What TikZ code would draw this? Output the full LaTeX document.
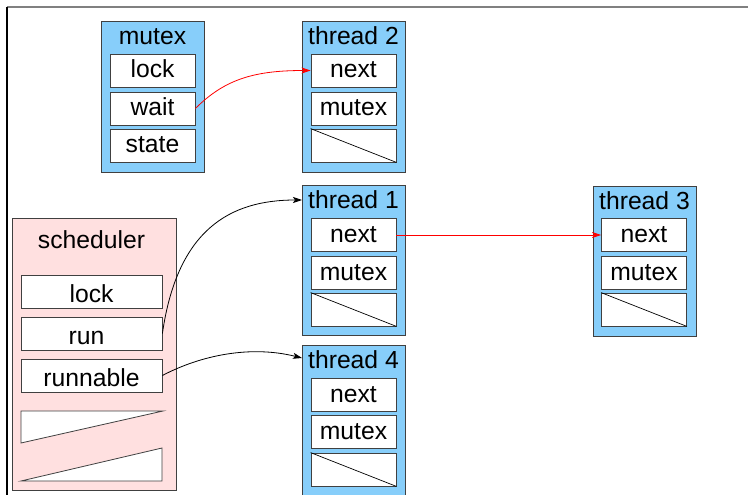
\documentclass[tikz,border=0pt]{standalone}
\usepackage{fontspec}
\setmainfont{Liberation Sans}
\usetikzlibrary{arrows.meta}
\definecolor{structblue}{RGB}{135,206,250}
\definecolor{schedpink}{RGB}{255,224,224}
\definecolor{edgegray}{RGB}{64,64,64}
\definecolor{framegray}{RGB}{128,128,128}

\begin{document}
\begin{tikzpicture}[x=1pt,y=-1pt,
  font=\fontsize{24.7}{30}\selectfont,
  structbox/.style={draw=edgegray, fill=structblue, line width=1pt, inner sep=0pt,
                    minimum width=103pt, minimum height=150pt},
  schedbox/.style={draw=edgegray, fill=schedpink, line width=1pt, inner sep=0pt,
                   minimum width=164pt, minimum height=272pt},
  field/.style={draw=edgegray, fill=white, line width=0.8pt, inner sep=0pt,
                minimum width=85pt, minimum height=33pt, text height=18pt, text depth=3pt},
  widefield/.style={field, minimum width=141pt, text height=21pt, text depth=0pt},
  title/.style={anchor=base, inner sep=0pt},
  ptr/.style={line width=0.8pt, -{Stealth[length=9pt,width=6pt,inset=2pt]}},
  nullslash/.style={line width=0.7pt, black}
]
\useasboundingbox (0,0) rectangle (748,495);

% frame
\draw[framegray, line width=2pt] (7,7) -- (748,7);
\draw[black, line width=1.2pt] (7,7) -- (7,495);

% mutex structure
\node[structbox] (mtx) at (152.5,97) {};
\node[title] (mtxtitle) at (152.5,45) {mutex};
\node[field] (mlock)  at (152.5,70.5)  {lock};
\node[field] (mwait)  at (152.5,108.5) {wait};
\node[field] (mstate) at (152.5,145.5) {state};

% thread 2
\node[structbox] (t2) at (353.5,97) {};
\node[title] (t2title) at (353.5,45) {thread 2};
\node[field] (t2next)  at (353.5,70.5)  {next};
\node[field] (t2mutex) at (353.5,108.5) {mutex};
\node[field] (t2nil)   at (353.5,145.5) {};
\draw[nullslash] (t2nil.north west) -- (t2nil.south east);

% thread 1
\node[structbox] (t1) at (353.5,260) {};
\node[title] (t1title) at (353.5,208) {thread 1};
\node[field] (t1next)  at (353.5,235)   {next};
\node[field] (t1mutex) at (353.5,272.5) {mutex};
\node[field] (t1nil)   at (353.5,309.5) {};
\draw[nullslash] (t1nil.north west) -- (t1nil.south east);

% thread 3
\node[structbox] (t3) at (644.5,261) {};
\node[title] (t3title) at (644.5,209) {thread 3};
\node[field] (t3next)  at (644,235)   {next};
\node[field] (t3mutex) at (644,272.5) {mutex};
\node[field] (t3nil)   at (644,309.5) {};
\draw[nullslash] (t3nil.north west) -- (t3nil.south east);

% thread 4
\node[structbox] (t4) at (353.5,420) {};
\node[title] (t4title) at (353.5,368) {thread 4};
\node[field] (t4next)  at (353.5,394.5) {next};
\node[field] (t4mutex) at (353.5,431.5) {mutex};
\node[field] (t4nil)   at (353.5,469.5) {};
\draw[nullslash] (t4nil.north west) -- (t4nil.south east);

% scheduler
\node[schedbox] (sched) at (94,354) {};
\node[title] (schedtitle) at (91.5,248) {scheduler};
\node[widefield] (slock)     at (91.5,291.5) {lock};
\node[widefield] (srun)      at (91.5,333.5) {\kern-10pt run};
\node[widefield] (srunnable) at (91.5,375.5) {runnable};
\draw[edgegray, fill=white, line width=0.8pt] (21,411) -- (163,411) -- (21,443) -- cycle;
\draw[edgegray, fill=white, line width=0.8pt] (162,448) -- (162,481) -- (21,481) -- cycle;

% pointers
\coordinate (t1in) at (302,200);
\coordinate (t4in) at (302,358);
\draw[ptr, red] (mwait.east) .. controls +(30,-30) and +(-55,0) .. (t2next.west);
\draw[ptr, red] (t1next.east) -- (t3next.west);
\draw[ptr, black] (srun.east) .. controls +(15,-104) and +(-72,0) .. (t1in);
\draw[ptr, black] (srunnable.east) .. controls +(38,-20) and +(-52,-13) .. (t4in);
\end{tikzpicture}
\end{document}
